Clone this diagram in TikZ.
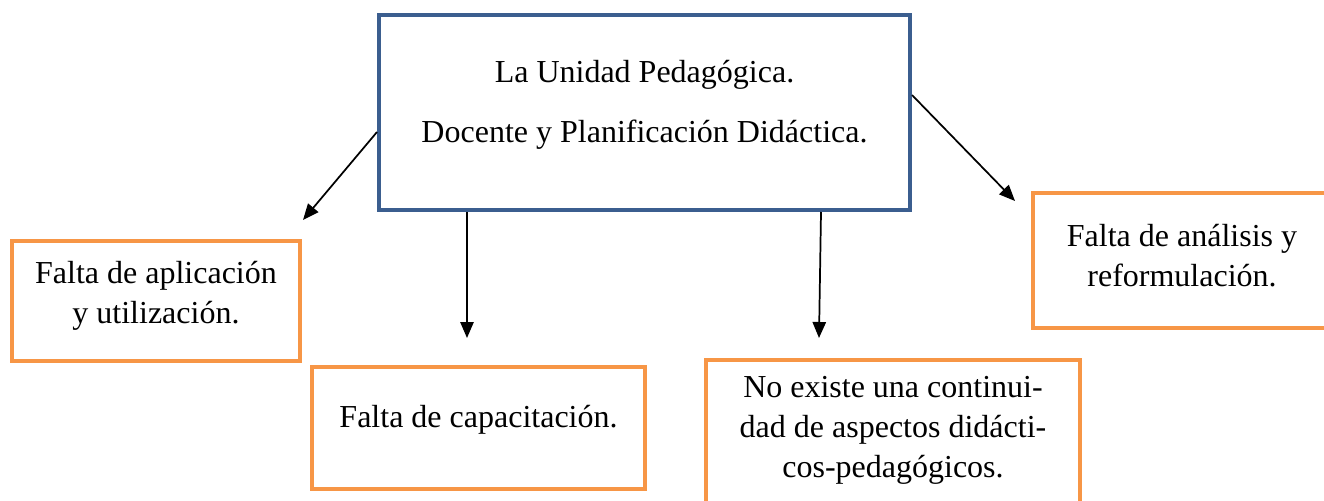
\documentclass[tikz,border=0pt]{standalone}
\usepackage{fontspec}
\setmainfont{Liberation Serif}
\usetikzlibrary{arrows.meta,calc}
\definecolor{boxblue}{HTML}{3B5E8F}
\definecolor{boxorange}{HTML}{F79646}
\begin{document}
\begin{tikzpicture}[x=0.75pt,y=-0.75pt,
  bluebox/.style={draw=boxblue,line width=3pt,inner sep=0pt},
  orangebox/.style={draw=boxorange,line width=3pt,inner sep=0pt},
  boxtext/.style={align=center,font=\fontsize{24}{30}\selectfont,inner sep=0pt},
  conn/.style={line width=1.3pt,-{Triangle[length=12pt,width=10pt]}}]
\useasboundingbox (0,0) rectangle (1324,500);
\clip (0,0) rectangle (1324,500);
% boxes
\node[bluebox,minimum width=531*0.75pt,minimum height=195*0.75pt] (top) at (644.5,112.5) {};
\node[boxtext] (toptext) at (644.5,105) {La Unidad Pedagógica.\\[15pt]Docente y Planificación Didáctica.};
\node[orangebox,minimum width=288*0.75pt,minimum height=120*0.75pt] (aplic) at (156,301) {};
\node[boxtext] (aplictext) at (156,296) {Falta de aplicación\\y utilización.};
\node[orangebox,minimum width=333*0.75pt,minimum height=122*0.75pt] (capac) at (478.5,428) {};
\node[boxtext] (capactext) at (478.5,420) {Falta de capacitación.};
\node[orangebox,minimum width=374*0.75pt,minimum height=160*0.75pt] (conti) at (893,440) {};
\node[boxtext] (contitext) at (893,430) {No existe una continui-\\dad de aspectos didácti-\\cos-pedagógicos.};
\node[orangebox,minimum width=298*0.75pt,minimum height=135*0.75pt] (anal) at (1182,260.5) {};
\node[boxtext] (analtext) at (1182,256) {Falta de análisis y\\reformulación.};
% arrow tips
\coordinate (tip1) at (303,220);
\coordinate (tip2) at (467,338);
\coordinate (tip3) at (819,338);
\coordinate (tip4) at (1015,201);
% connectors
\draw[conn] (top.west |- 0,132) -- (tip1);
\draw[conn] (top.south -| 467,0) -- (tip2);
\draw[conn] (top.south -| 821,0) -- (tip3);
\draw[conn] (top.east |- 0,95) -- (tip4);
\end{tikzpicture}
\end{document}
